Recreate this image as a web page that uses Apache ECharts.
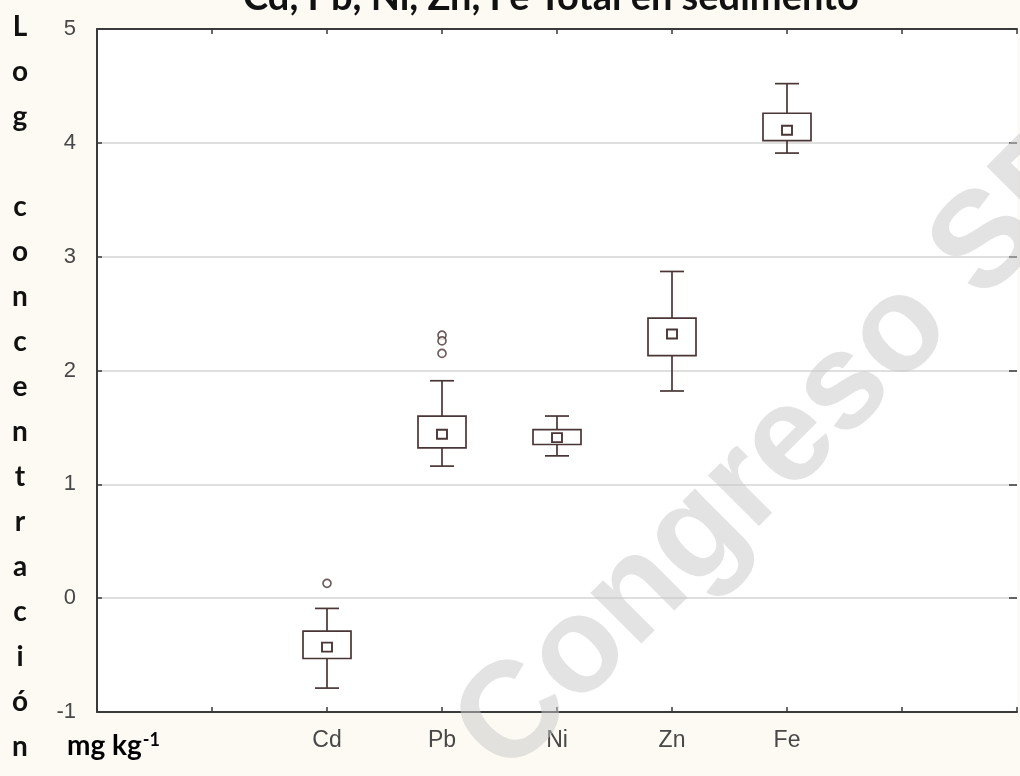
<!DOCTYPE html>
<html>
<head>
<meta charset="utf-8">
<script src="https://cdn.jsdelivr.net/npm/echarts@6/dist/echarts.min.js"></script>
<style>
  html, body { margin: 0; padding: 0; background: #fcfaf3; }
  #chart { width: 1020px; height: 776px; }
</style>
</head>
<body>
<div id="chart"></div>
<script>
// ---- data ----
const categories = ['', '', 'Cd', 'Pb', 'Ni', 'Zn', 'Fe', '', ''];
const elements = ['Cd', 'Pb', 'Ni', 'Zn', 'Fe'];
const whiskerLow = [-0.79, 1.16, 1.25, 1.82, 3.91];
const q1 = [-0.53, 1.32, 1.35, 2.13, 4.02];
const q3 = [-0.29, 1.60, 1.48, 2.46, 4.26];
const whiskerHigh = [-0.09, 1.91, 1.60, 2.87, 4.52];
const means = [-0.43, 1.44, 1.41, 2.32, 4.11];
const outlierElements = ['Cd', 'Pb', 'Pb', 'Pb'];
const outlierValues = [0.13, 2.31, 2.26, 2.15];
const yTicks = [-1, 0, 1, 2, 3, 4, 5];
const titleText = 'Cd, Pb, Ni, Zn, Fe Total en sedimento';
const yTitleLetters = ['L', 'o', 'g', '', 'c', 'o', 'n', 'c', 'e', 'n', 't', 'r', 'a', 'c', 'i', 'ó', 'n'];
const unitText = 'mg kg';
const unitSup = '-1';
const watermark = 'Congreso SP';

const boxData = elements.map((e, i) => [e, whiskerLow[i], q1[i], q3[i], whiskerHigh[i], means[i]]);
const outlierData = outlierElements.map((e, i) => [e, outlierValues[i]]);

const ink = '#4a3636';
const axisInk = '#3a3a3a';
const chart = echarts.init(document.getElementById('chart'));

chart.setOption({
  backgroundColor: '#fcfaf3',
  animation: false,
  grid: { left: 97, top: 29, width: 930, height: 683, show: true, backgroundColor: '#ffffff', borderWidth: 0 },
  xAxis: [{
    type: 'category', data: categories, boundaryGap: false, position: 'bottom',
    axisLine: { show: true, onZero: false, lineStyle: { color: axisInk, width: 2 } },
    axisTick: { show: true, inside: true, length: 5, lineStyle: { color: axisInk, width: 1.5 } },
    axisLabel: { color: '#484848', fontSize: 23, fontFamily: 'Liberation Sans', margin: 17, interval: 0 },
    splitLine: { show: false }
  }, {
    type: 'category', data: categories, boundaryGap: false, position: 'top',
    axisLine: { show: true, onZero: false, lineStyle: { color: axisInk, width: 2 } },
    axisTick: { show: true, inside: true, length: 5, lineStyle: { color: axisInk, width: 1.5 } },
    axisLabel: { show: false }, splitLine: { show: false }
  }],
  yAxis: [{
    type: 'value', min: -1, max: 5, interval: 1, position: 'left',
    axisLine: { show: true, onZero: false, lineStyle: { color: axisInk, width: 2 } },
    axisTick: { show: true, inside: true, length: 5, lineStyle: { color: axisInk, width: 1.5 } },
    axisLabel: { color: '#484848', fontSize: 22, fontFamily: 'Liberation Sans', margin: 21,
      formatter: v => yTicks.includes(v) ? String(v) : '' },
    splitLine: { show: true, lineStyle: { color: '#d4d4d4', width: 1.5 } }
  }, {
    type: 'value', min: -1, max: 5, interval: 1, position: 'right',
    axisLine: { show: false, onZero: false },
    axisTick: { show: true, inside: true, length: 8, lineStyle: { color: axisInk, width: 1.5 } },
    axisLabel: { show: false }, splitLine: { show: false }
  }],
  series: [{
    type: 'custom',
    xAxisIndex: 0, yAxisIndex: 0,
    data: boxData,
    encode: { x: 0, y: [1, 2, 3, 4, 5] },
    renderItem: function (params, api) {
      const x = api.value(0);
      const pLow = api.coord([x, api.value(1)]);
      const pQ1 = api.coord([x, api.value(2)]);
      const pQ3 = api.coord([x, api.value(3)]);
      const pHigh = api.coord([x, api.value(4)]);
      const pMean = api.coord([x, api.value(5)]);
      const cx = pLow[0];
      const bw = 48, cw = 24, mw = 10, mh = 9;
      const ls = { stroke: ink, lineWidth: 1.7, fill: null };
      return {
        type: 'group',
        children: [
          { type: 'line', shape: { x1: cx, y1: pHigh[1], x2: cx, y2: pQ3[1] }, style: ls },
          { type: 'line', shape: { x1: cx, y1: pQ1[1], x2: cx, y2: pLow[1] }, style: ls },
          { type: 'line', shape: { x1: cx - cw / 2, y1: pHigh[1], x2: cx + cw / 2, y2: pHigh[1] }, style: ls },
          { type: 'line', shape: { x1: cx - cw / 2, y1: pLow[1], x2: cx + cw / 2, y2: pLow[1] }, style: ls },
          { type: 'rect', shape: { x: cx - bw / 2, y: pQ3[1], width: bw, height: pQ1[1] - pQ3[1] },
            style: { stroke: ink, lineWidth: 1.7, fill: '#ffffff' } },
          { type: 'rect', shape: { x: cx - mw / 2, y: pMean[1] - mh / 2, width: mw, height: mh },
            style: { stroke: ink, lineWidth: 1.9, fill: '#ffffff' } }
        ]
      };
    },
    z: 3
  }, {
    type: 'scatter',
    xAxisIndex: 0, yAxisIndex: 0,
    data: outlierData,
    symbol: 'circle', symbolSize: 8,
    itemStyle: { color: '#ffffff', borderColor: ink, borderWidth: 1.7 },
    z: 4
  }],
  graphic: [
    { type: 'text', left: 243, top: -21,
      style: { text: titleText, font: 'bold 38px Lato', fill: '#111111' }, z: 10 },
    { type: 'text', x: 20, y: 4,
      style: { text: yTitleLetters.join('\n'), font: 'bold 28px Lato', lineHeight: 45,
        fill: '#111111', align: 'center', verticalAlign: 'top' }, z: 10 },
    { type: 'text', x: 67, y: 746,
      style: { text: '{a|' + unitText + '}{b|' + unitSup + '}',
        rich: { a: { fontSize: 28, fontWeight: 'bold', fontFamily: 'Lato', color: '#111' },
                b: { fontSize: 18, fontWeight: 'bold', fontFamily: 'Lato', color: '#111', verticalAlign: 'top', padding: [0, 0, 12, 1] } },
        align: 'left', verticalAlign: 'middle' }, z: 10 },
    { type: 'text', x: 480, y: 752, rotation: Math.PI / 4,
      style: { text: watermark, font: 'bold 136px "Liberation Sans"', fill: 'rgba(200,200,200,0.5)',
        align: 'left', verticalAlign: 'middle' }, z: 20, silent: true }
  ]
});
</script>
</body>
</html>
